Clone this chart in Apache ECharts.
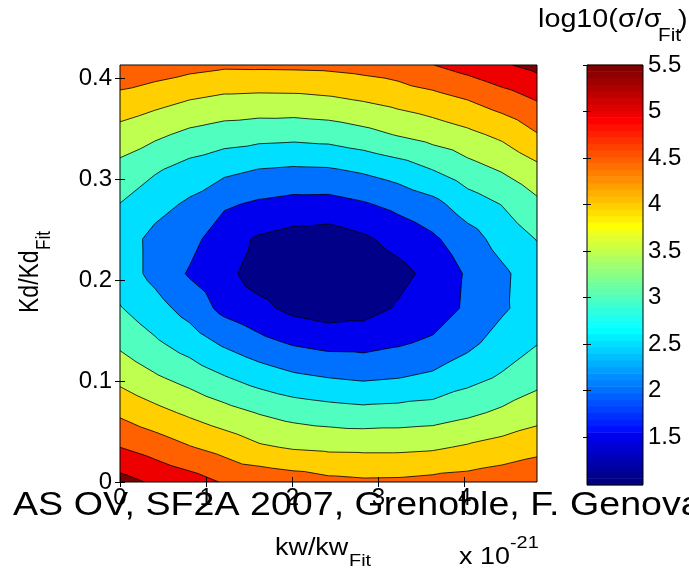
<!DOCTYPE html>
<html>
<head>
<meta charset="utf-8">
<script src="https://cdn.jsdelivr.net/npm/echarts@6/dist/echarts.min.js"></script>
<style>
html,body{margin:0;padding:0;background:#fff;}
#c{width:689px;height:568px;}
</style>
</head>
<body>
<div id="c"></div>
<script>
// ---------------- data ----------------
// grid abscissae kw/kw_Fit (units of 1e-21)
const kwValues = [0, 0.4033, 0.8067, 1.21, 1.6133, 2.0167, 2.42, 2.8233, 3.2267, 3.63, 4.0333, 4.4367, 4.84];
// grid ordinates Kd/Kd_Fit
const kdValues = [0, 0.0344, 0.0688, 0.1032, 0.1376, 0.172, 0.2064, 0.2408, 0.2752, 0.3096, 0.344, 0.3784, 0.4128];
// log10(sigma/sigma_Fit), one row per Kd value
const z_kd00 = [5.68, 5.42, 5.22, 4.96, 4.86, 4.76, 4.63, 4.58, 4.59, 4.65, 4.70, 4.80, 4.92];
const z_kd01 = [5.00, 4.78, 4.53, 4.32, 4.07, 3.95, 3.90, 3.89, 3.89, 3.93, 4.06, 4.19, 4.34];
const z_kd02 = [4.41, 4.15, 3.91, 3.68, 3.47, 3.31, 3.22, 3.16, 3.19, 3.24, 3.39, 3.59, 3.79];
const z_kd03 = [3.86, 3.57, 3.32, 3.04, 2.79, 2.60, 2.50, 2.43, 2.49, 2.60, 2.84, 3.06, 3.34];
const z_kd04 = [3.40, 3.08, 2.77, 2.42, 2.15, 1.95, 1.84, 1.83, 1.94, 2.09, 2.37, 2.72, 2.98];
const z_kd05 = [3.03, 2.69, 2.31, 1.86, 1.63, 1.37, 1.25, 1.31, 1.55, 1.70, 2.09, 2.43, 2.75];
const z_kd06 = [2.77, 2.36, 1.95, 1.64, 1.28, 1.12, 1.05, 1.15, 1.35, 1.65, 2.06, 2.41, 2.77];
const z_kd07 = [2.76, 2.36, 2.17, 1.70, 1.44, 1.31, 1.26, 1.42, 1.67, 1.92, 2.29, 2.69, 3.02];
const z_kd08 = [2.99, 2.68, 2.42, 2.07, 1.92, 1.83, 1.82, 1.95, 2.14, 2.35, 2.75, 3.02, 3.39];
const z_kd09 = [3.35, 3.06, 2.82, 2.63, 2.49, 2.44, 2.46, 2.58, 2.75, 3.01, 3.31, 3.55, 3.87];
const z_kd10 = [3.80, 3.60, 3.38, 3.25, 3.18, 3.15, 3.20, 3.34, 3.53, 3.70, 3.88, 4.11, 4.47];
const z_kd11 = [4.34, 4.17, 4.00, 3.88, 3.85, 3.86, 3.92, 4.03, 4.17, 4.31, 4.50, 4.75, 5.02];
const z_kd12 = [4.90, 4.80, 4.67, 4.58, 4.59, 4.60, 4.62, 4.69, 4.78, 4.99, 5.20, 5.44, 5.64];
const zRows = [z_kd00, z_kd01, z_kd02, z_kd03, z_kd04, z_kd05, z_kd06, z_kd07, z_kd08, z_kd09, z_kd10, z_kd11, z_kd12];

const contourLevels = [1.5, 2, 2.5, 3, 3.5, 4, 4.5, 5, 5.5];
const xTickValues = [0, 1, 2, 3, 4];
const yTickValues = [0, 0.1, 0.2, 0.3, 0.4];
const cbTickValues = [1.5, 2, 2.5, 3, 3.5, 4, 4.5, 5, 5.5];
const cbMin = 0.985, cbMax = 5.5;

// ---------------- colormap (MATLAB jet, 64 entries) ----------------
function jetColor(k) {
  const u = i => (i <= 16 ? i / 16 : (i <= 31 ? 1 : (48 - i) / 16));
  const r = k >= 25 ? u(k - 24) : 0;
  const g = (k >= 9 && k <= 55) ? u(k - 8) : 0;
  const b = k <= 39 ? u(k + 7) : 0;
  return 'rgb(' + Math.round(r * 255) + ',' + Math.round(g * 255) + ',' + Math.round(b * 255) + ')';
}
function jetIndex(v) { return Math.max(1, Math.min(64, Math.floor((v - cbMin) / (cbMax - cbMin) * 64) + 1)); }
const bandColors = ['rgb(0,0,136)'].concat(contourLevels.map(l => jetColor(jetIndex(l))));

// ---------------- contour helpers ----------------
function clipAbove(poly, L) {
  const out = [];
  for (let k = 0; k < poly.length; k++) {
    const a = poly[k], b = poly[(k + 1) % poly.length];
    const ain = a[2] >= L, bin = b[2] >= L;
    if (ain) out.push(a);
    if (ain !== bin) {
      const t = (L - a[2]) / (b[2] - a[2]);
      out.push([a[0] + t * (b[0] - a[0]), a[1] + t * (b[1] - a[1]), L]);
    }
  }
  return out;
}
function allTriangles() {
  const tris = [];
  for (let j = 0; j < kdValues.length - 1; j++) {
    for (let i = 0; i < kwValues.length - 1; i++) {
      const p00 = [kwValues[i], kdValues[j], zRows[j][i]];
      const p10 = [kwValues[i + 1], kdValues[j], zRows[j][i + 1]];
      const p11 = [kwValues[i + 1], kdValues[j + 1], zRows[j + 1][i + 1]];
      const p01 = [kwValues[i], kdValues[j + 1], zRows[j + 1][i]];
      tris.push([p00, p10, p11], [p00, p11, p01]);
    }
  }
  return tris;
}

function pathEl(polys, closed, style) {
  let d = '';
  let x0 = Infinity, y0 = Infinity, x1 = -Infinity, y1 = -Infinity;
  polys.forEach(pts => {
    pts.forEach((p, n) => {
      const x = Math.round(p[0] * 100) / 100, y = Math.round(p[1] * 100) / 100;
      d += (n === 0 ? 'M' : 'L') + x + ' ' + y + ' ';
      if (x < x0) x0 = x; if (x > x1) x1 = x;
      if (y < y0) y0 = y; if (y > y1) y1 = y;
    });
    if (closed) d += 'Z ';
  });
  if (!d) return null;
  return {type: 'path', shape: {pathData: d, x: x0, y: y0, width: Math.max(x1 - x0, 0.01), height: Math.max(y1 - y0, 0.01), layout: 'cover'}, style: style};
}

function renderContour(params, api) {
  const tris = allTriangles();
  const toPx = poly => poly.map(p => api.coord([p[0], p[1]]));
  const children = [];
  // lowest band: whole field
  children.push(pathEl(tris.map(toPx), true, {fill: bandColors[0]}));
  // each level: region z >= level painted over the previous ones
  contourLevels.forEach((L, k) => {
    const polys = [];
    tris.forEach(tri => {
      const c = clipAbove(tri, L);
      if (c.length >= 3) polys.push(toPx(c));
    });
    const el = pathEl(polys, true, {fill: bandColors[k + 1]});
    if (el) children.push(el);
  });
  // contour lines
  const segs = [];
  tris.forEach(tri => {
    contourLevels.forEach(L => {
      const pts = [];
      for (let k = 0; k < 3; k++) {
        const a = tri[k], b = tri[(k + 1) % 3];
        if ((a[2] >= L) !== (b[2] >= L)) {
          const t = (L - a[2]) / (b[2] - a[2]);
          pts.push(api.coord([a[0] + t * (b[0] - a[0]), a[1] + t * (b[1] - a[1])]));
        }
      }
      if (pts.length === 2) segs.push(pts);
    });
  });
  const lineEl = pathEl(segs, false, {fill: null, stroke: '#000', lineWidth: 0.8});
  if (lineEl) children.push(lineEl);
  return {type: 'group', children: children};
}

// colorbar steps
const cbSteps = [];
for (let k = 1; k <= 64; k++) {
  const lo = cbMin + (k - 1) * (cbMax - cbMin) / 64;
  cbSteps.push([0.5, lo, k]);
}
function renderColorbar(params, api) {
  const k = api.value(2);
  const lo = api.value(1), hi = lo + (cbMax - cbMin) / 64;
  const p0 = api.coord([0, hi]), p1 = api.coord([1, lo]);
  return {type: 'rect', shape: {x: p0[0], y: p0[1] - 0.3, width: p1[0] - p0[0], height: p1[1] - p0[1] + 0.6},
    style: {fill: jetColor(k)}};
}

// ---------------- chart ----------------
const FONT = '"Liberation Sans", Arial, Helvetica, sans-serif';
const tickStyle = {color: '#000', width: 1};
const chart = echarts.init(document.getElementById('c'), null, {renderer: 'canvas'});

function txt(text, x, y, size, sx, extra) {
  return Object.assign({
    type: 'text', x: x, y: y, scaleX: sx, z: 20,
    style: {text: text, font: size + 'px ' + FONT, fill: '#000', align: 'left', verticalAlign: 'middle'}
  }, extra || {});
}

chart.setOption({
  animation: false,
  backgroundColor: '#fff',
  grid: [
    {left: 120, top: 65, width: 417, height: 417, show: true, z: 10, backgroundColor: 'transparent', borderColor: '#000', borderWidth: 1},
    {left: 587, top: 65, width: 56, height: 420, show: true, z: 10, backgroundColor: 'transparent', borderColor: '#000', borderWidth: 1}
  ],
  xAxis: [
    {gridIndex: 0, type: 'value', min: 0, max: 4.84, position: 'bottom', z: 10,
      axisLine: {show: false}, splitLine: {show: false},
      axisTick: {show: true, inside: true, length: 5, lineStyle: tickStyle, customValues: xTickValues},
      axisLabel: {show: true, customValues: xTickValues, color: '#000', fontFamily: FONT, fontSize: 24, margin: 4}},
    {gridIndex: 0, type: 'value', min: 0, max: 4.84, position: 'top', z: 10,
      axisLine: {show: false}, splitLine: {show: false},
      axisTick: {show: true, inside: true, length: 5, lineStyle: tickStyle, customValues: xTickValues},
      axisLabel: {show: false}},
    {gridIndex: 1, type: 'value', min: 0, max: 1, show: false}
  ],
  yAxis: [
    {gridIndex: 0, type: 'value', min: 0, max: 0.413, position: 'left', z: 10,
      axisLine: {show: false}, splitLine: {show: false},
      axisTick: {show: true, inside: true, length: 5, lineStyle: tickStyle, customValues: yTickValues},
      axisLabel: {show: true, customValues: yTickValues, color: '#000', fontFamily: FONT, fontSize: 24, margin: 8}},
    {gridIndex: 0, type: 'value', min: 0, max: 0.413, position: 'right', z: 10,
      axisLine: {show: false}, splitLine: {show: false},
      axisTick: {show: true, inside: true, length: 5, lineStyle: tickStyle, customValues: yTickValues},
      axisLabel: {show: false}},
    {gridIndex: 1, type: 'value', min: cbMin, max: cbMax, position: 'right', z: 10,
      axisLine: {show: false}, splitLine: {show: false},
      axisTick: {show: true, inside: true, length: 4, lineStyle: tickStyle, customValues: cbTickValues},
      axisLabel: {show: true, customValues: cbTickValues, color: '#000', fontFamily: FONT, fontSize: 24, margin: 5}},
    {gridIndex: 1, type: 'value', min: cbMin, max: cbMax, position: 'left', z: 10,
      axisLine: {show: false}, splitLine: {show: false},
      axisTick: {show: true, inside: true, length: 4, lineStyle: tickStyle, customValues: cbTickValues},
      axisLabel: {show: false}}
  ],
  series: [
    {type: 'custom', name: 'contourf', coordinateSystem: 'cartesian2d', xAxisIndex: 0, yAxisIndex: 0,
      data: [[kwValues[0], kdValues[0]]], encode: {x: 0, y: 1}, renderItem: renderContour, silent: true, z: 2, clip: true},
    {type: 'custom', name: 'colorbar', coordinateSystem: 'cartesian2d', xAxisIndex: 2, yAxisIndex: 2,
      data: cbSteps, encode: {x: 0, y: 1}, renderItem: renderColorbar, silent: true, z: 2}
  ],
  graphic: [
    txt('AS OV, SF2A 2007, Grenoble, F. Genova', 13, 506, 33, 1.14),
    txt('kw/kw', 275, 549, 23, 1.17),
    txt('Fit', 349, 561, 17, 1.17),
    txt('x 10', 459, 558, 23, 1.17),
    txt('-21', 510, 543, 17, 1.17),
    txt('log10(σ/σ', 538, 20, 25, 1.15),
    txt('Fit', 658, 36, 18, 1.15),
    txt(')', 678, 21, 25, 1.15),
    txt('Kd/Kd', 31, 313, 23, 1, {rotation: Math.PI / 2, scaleY: 1.17}),
    txt('Fit', 45, 250, 17, 1, {rotation: Math.PI / 2, scaleY: 1.17})
  ]
});
</script>
</body>
</html>
